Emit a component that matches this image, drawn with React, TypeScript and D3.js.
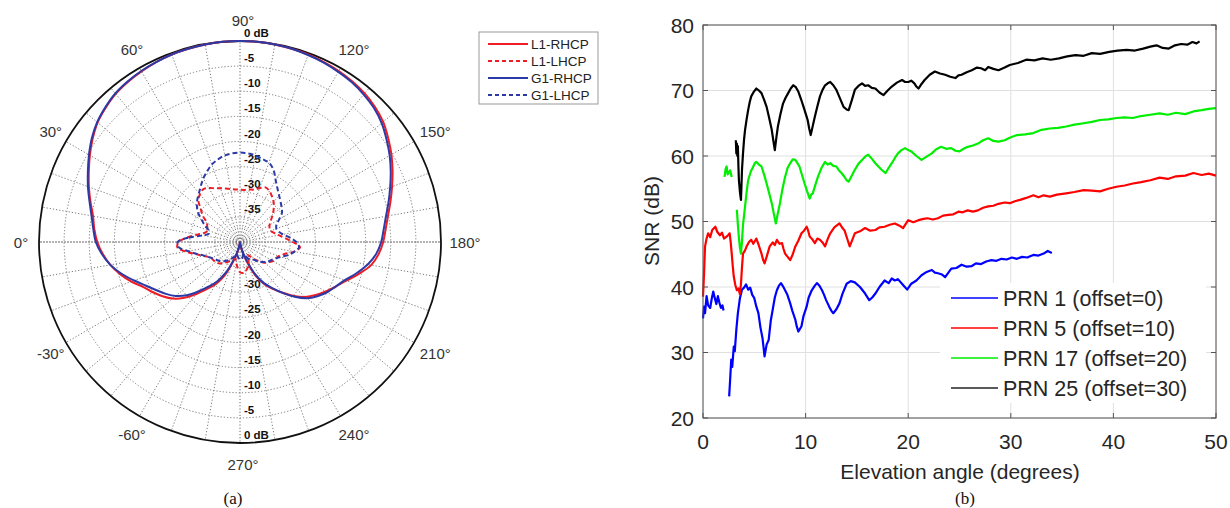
import React from 'react';
import * as d3 from 'd3';

// ---------------- Polar pattern data (angle in deg: 0 = left, 90 = top, 180 = right, 270 = bottom) ----------------
const polarAngles = [
  0, 5, 10, 15, 20, 25, 30, 35, 40, 45, 50, 55, 60, 65, 70, 75, 80, 85,
  90, 95, 100, 105, 110, 115, 120, 125, 130, 135, 140, 145, 150, 155, 160, 165, 170, 175,
  180, 185, 190, 195, 200, 205, 210, 215, 220, 225, 230, 235, 240, 245, 250, 255, 260, 265,
  270, 275, 280, 285, 290, 295, 300, 305, 310, 315, 320, 325, 330, 335, 340, 345, 350, 355,
];
const l1Rhcp = [
  -11.6, -10.9, -10.3, -9.2, -8.0, -6.8, -5.5, -4.2, -3.0, -2.2, -1.5, -1.1, -0.8, -0.5, -0.3, -0.2, -0.1, 0,
  0, 0, -0.1, -0.2, -0.3, -0.5, -0.7, -1.0, -1.4, -2.0, -2.8, -4.0, -5.2, -6.5, -7.8, -9.0, -10.1, -10.9,
  -11.5, -12.3, -13.5, -15.5, -17.5, -19.0, -20.3, -21.6, -23.0, -24.8, -26.8, -28.6, -30.3, -32.5, -35.5, -37.5, -39.0, -40,
  -40, -40, -39.0, -37.5, -35.5, -32.5, -30.3, -28.6, -26.5, -24.3, -22.5, -21.2, -20.0, -18.8, -17.0, -15.3, -13.8, -12.6,
];
const g1Rhcp = [
  -11.3, -10.7, -10.0, -9.0, -7.8, -6.6, -5.3, -4.0, -2.9, -2.1, -1.4, -1.0, -0.7, -0.5, -0.3, -0.2, -0.1, 0,
  0, 0, -0.1, -0.2, -0.4, -0.6, -0.9, -1.2, -1.7, -2.3, -3.2, -4.4, -5.6, -6.9, -8.2, -9.4, -10.5, -11.3,
  -11.9, -12.8, -14.2, -16.0, -17.8, -19.0, -20.0, -21.2, -22.6, -24.6, -26.8, -28.8, -30.6, -33.0, -36.0, -38.0, -39.3, -40,
  -40, -40, -39.3, -38.0, -36.0, -33.2, -31.0, -29.2, -27.2, -25.0, -23.3, -22.0, -20.8, -19.4, -17.6, -15.6, -13.8, -12.4,
];
const l1Lhcp = [
  -27.8, -29.5, -31.5, -32.8, -33.2, -32.8, -32.4, -31.0, -29.8, -28.3, -27.6, -27.2, -27.6, -28.2, -28.6, -29.0, -29.3, -29.5,
  -29.6, -29.6, -29.4, -29.2, -28.6, -28.0, -28.3, -28.9, -29.6, -30.5, -31.5, -32.5, -33.2, -33.5, -33.5, -33.0, -32.2, -31.0,
  -29.5, -28.0, -29.0, -30.8, -31.8, -32.2, -32.4, -33.0, -33.6, -34.5, -35.5, -36.5, -37.0, -36.0, -35.0, -34.5, -34.0, -33.8,
  -34.0, -34.8, -35.8, -36.5, -36.5, -36.0, -35.5, -35.0, -34.5, -34.0, -33.8, -33.6, -33.5, -33.0, -32.0, -30.8, -29.0, -27.5,
];
const g1Lhcp = [
  -27.6, -29.8, -32.5, -33.6, -33.4, -32.3, -31.2, -29.8, -28.8, -28.0, -27.3, -26.4, -25.4, -24.5, -23.6, -23.0, -22.5, -22.3,
  -22.2, -22.3, -22.5, -22.9, -23.2, -24.2, -25.8, -27.0, -27.9, -28.6, -29.2, -29.8, -31.0, -32.0, -32.3, -32.0, -31.3, -30.0,
  -28.8, -28.2, -29.0, -30.0, -31.3, -32.2, -32.8, -33.2, -33.8, -34.5, -35.2, -35.8, -36.0, -36.5, -37.2, -37.5, -37.0, -36.6,
  -36.5, -36.8, -37.2, -37.5, -37.0, -36.5, -36.0, -35.5, -35.0, -34.6, -34.3, -34.0, -33.6, -33.0, -32.2, -31.0, -29.5, -27.8,
];
const ringLevels = [-35, -30, -25, -20, -15, -10, -5];
const innerRingLevels = [-39, -38, -37, -36];
const topRingLabels = [0, -5, -10, -15, -20, -25, -30, -35];
const bottomRingLabels = [0, -5, -10, -15, -20, -25, -30];
const angleLabelValues = [0, 30, 60, 90, 120, 150, 180, 210, 240, 270, -60, -30];
const polarLegend = ['L1-RHCP', 'L1-LHCP', 'G1-RHCP', 'G1-LHCP'];

// ---------------- SNR data [elevation deg, SNR dB] ----------------
const prn1SegA = [[0,35.2],[0.1,37],[0.2,36],[0.35,38.6],[0.5,37.2],[0.7,36.8],[0.85,38.2],[1.0,39.3],[1.15,38.3],[1.3,37.4],[1.45,38.6],[1.6,37.6],[1.75,36.8],[1.9,37.2],[2.0,36.4]];
const prn1SegB = [[2.55,23.3],[2.65,26],[2.75,28.9],[2.85,27.8],[3.0,30.9],[3.1,30.2],[3.25,33.5],[3.4,36],[3.6,38.3],[3.8,39.6],[4.0,39.9],[4.2,40.4],[4.4,39.6],[4.6,39.9],[4.8,38.8],[5.0,38.3],[5.2,37],[5.4,36],[5.6,33.8],[5.8,32.2],[6.0,29.4],[6.2,31.2],[6.4,31.9],[6.6,34.8],[6.8,36.6],[7.0,38.4],[7.2,39.5],[7.4,40.2],[7.6,40.6],[7.8,40.1],[8.0,39.5],[8.2,38.9],[8.5,37.5],[8.7,36.4],[9.0,35],[9.15,33.9],[9.3,33.2],[9.45,33.6],[9.6,34],[9.8,35.6],[10.1,37],[10.3,38.4],[10.6,39.5],[10.9,40.2],[11.1,40.6],[11.35,40.2],[11.6,39.5],[11.8,38.8],[12.0,38],[12.3,37],[12.5,36.4],[12.7,36],[13.0,36.6],[13.3,37.5],[13.6,39],[14.0,40.5],[14.4,40.9],[14.8,40.7],[15.3,40],[15.8,39],[16.2,38],[16.5,38.4],[16.8,39],[17.2,40],[17.7,41],[18.1,40.6],[18.4,41.3],[18.7,41],[19.0,41.2],[19.5,40.3],[19.9,39.6],[20.3,40.5],[20.8,41],[21.3,41.8],[21.8,42.3],[22.3,42.6],[22.6,42.2],[22.9,42.1],[23.3,41.9],[23.6,41.5],[24.2,42.8],[24.7,42.9],[25.2,43.4],[25.7,43.1],[26.2,43.2],[26.6,43.6],[27.1,43.5],[27.6,43.9],[28.1,44.1],[28.6,44],[29.1,44.3],[29.6,44.2],[30.1,44.5],[30.6,44.3],[31.1,44.6],[31.6,44.5],[32.2,44.9],[32.7,44.8],[33.2,45.1],[33.6,45.5],[34.0,45.2]];
const prn5 = [[0,38.5],[0.1,42],[0.2,46.2],[0.35,47.4],[0.5,48.2],[0.7,47.6],[0.9,48.7],[1.2,49.2],[1.4,48.4],[1.65,47.9],[1.85,48.3],[2.05,47.4],[2.3,47.7],[2.45,47.9],[2.6,48.2],[2.7,46.8],[2.8,45.1],[2.9,43.2],[3.0,41.6],[3.15,40.3],[3.3,39.5],[3.45,39.8],[3.6,38.9],[3.7,40.5],[3.8,43],[3.9,45.1],[4.1,45.6],[4.25,46.2],[4.5,46.9],[4.7,47.2],[4.9,46.6],[5.2,47.4],[5.45,46.3],[5.7,45.1],[5.85,44.2],[6.0,43.6],[6.2,44.6],[6.5,46.2],[6.8,46.8],[7.0,46.4],[7.2,47.2],[7.45,46.6],[7.7,46.7],[7.85,45.8],[8.0,45.1],[8.25,44.6],[8.5,44.1],[8.75,45],[9.0,46.2],[9.3,47.1],[9.6,48.2],[9.85,48.6],[10.1,49.2],[10.25,48.6],[10.4,47.7],[10.65,47.3],[10.9,46.7],[11.15,47.4],[11.4,47.2],[11.65,46.8],[11.9,46.2],[12.15,47.3],[12.4,48.2],[12.8,49.1],[13.3,49.7],[13.6,49],[13.8,48.6],[14.05,47.4],[14.3,46.2],[14.55,47.2],[14.8,48.2],[15.3,48.5],[15.8,49],[16.3,48.6],[16.8,48.7],[17.2,49.1],[17.7,49.2],[18.2,49.5],[18.7,49.7],[19.1,49.4],[19.5,49],[20.0,50.2],[20.5,49.9],[21.0,50.2],[21.5,50.4],[21.9,50.5],[22.4,50.3],[22.9,50.5],[23.4,50.9],[23.9,51],[24.4,51.1],[24.9,51.5],[25.3,51.4],[25.8,51.7],[26.3,51.5],[26.8,51.7],[27.3,52.1],[27.8,52.3],[28.3,52.4],[28.8,52.7],[29.4,52.9],[29.9,52.8],[30.4,53.1],[30.9,53.3],[31.5,53.6],[32.2,54],[32.7,53.7],[33.2,54],[33.8,53.8],[34.5,54.1],[35.4,54.3],[36.2,54.5],[37.1,54.8],[37.9,54.7],[38.7,54.6],[39.5,55],[40.3,55.3],[41.1,55.5],[41.9,55.8],[42.7,56],[43.6,56.3],[44.5,56.7],[45.3,56.5],[46.1,56.9],[47,57],[47.8,57.4],[48.6,57.1],[49.3,57.3],[50,57]];
const prn17SegA = [[2.1,56.8],[2.2,58],[2.3,58.4],[2.4,57.2],[2.5,57.4],[2.65,57.8],[2.8,56.8]];
const prn17SegB = [[3.3,51.8],[3.4,49.5],[3.5,47.5],[3.6,46],[3.7,45.1],[3.8,47],[3.9,49.5],[4.1,52.3],[4.25,54.5],[4.4,56.3],[4.65,57.6],[4.9,58.4],[5.05,58.9],[5.2,59.1],[5.45,58.7],[5.7,58.4],[5.95,57.2],[6.2,55.8],[6.45,54.3],[6.7,52.8],[6.9,51.2],[7.1,49.7],[7.3,51.3],[7.5,52.8],[7.75,55],[8.0,56.8],[8.25,58.2],[8.5,58.9],[8.75,59.5],[9.0,59.4],[9.2,58.9],[9.4,58.4],[9.65,57.1],[9.9,55.8],[10.15,54.6],[10.4,53.5],[10.55,54.1],[10.7,54.3],[10.95,55.6],[11.2,56.8],[11.55,58.2],[11.9,59.1],[12.15,58.7],[12.4,58.9],[12.7,58.5],[13.0,58.4],[13.25,57.8],[13.5,57.4],[13.8,56.8],[14.0,56.3],[14.2,56.1],[14.5,57],[14.8,57.9],[15.15,58.8],[15.5,59.4],[15.8,59.9],[16.1,60.2],[16.45,59.6],[16.8,58.9],[17.1,58.4],[17.4,57.9],[17.8,57.4],[18.1,58.2],[18.4,58.9],[18.7,59.7],[19.0,60.4],[19.35,60.9],[19.7,61.2],[20.0,60.9],[20.3,60.7],[20.8,60],[21.3,59.4],[21.8,59.9],[22.3,60.4],[22.7,61],[23.2,61.4],[23.7,61.1],[24.2,61.2],[24.6,60.8],[25.0,60.7],[25.4,61.1],[25.8,61.4],[26.3,61.6],[26.8,61.9],[27.3,62.4],[27.8,62.7],[28.3,62.3],[28.8,62.2],[29.4,62.4],[29.9,62.8],[30.6,63.2],[31.4,63.3],[32.2,63.5],[33,64],[33.8,64.2],[34.6,64.3],[35.4,64.5],[36.2,64.8],[37.1,65],[37.9,65.2],[38.7,65.5],[39.5,65.6],[40.3,65.8],[41.1,65.9],[41.9,65.8],[42.7,66.1],[43.6,66.3],[44.5,66.5],[45.3,66.3],[46.1,66.6],[47,66.4],[47.8,66.8],[48.6,67],[49.3,67.2],[50,67.3]];
const prn25 = [[3.2,62.4],[3.25,60.4],[3.3,61.9],[3.35,60],[3.4,61.5],[3.45,58.5],[3.5,56.3],[3.6,54.5],[3.7,53.3],[3.75,55.5],[3.8,57.9],[3.9,60.4],[4.0,62.5],[4.1,64],[4.25,65.6],[4.4,67],[4.55,68.2],[4.7,69.1],[4.95,69.8],[5.2,70.3],[5.45,70],[5.7,69.6],[5.95,68.6],[6.2,67.5],[6.45,65.8],[6.7,64],[6.85,62.4],[7.0,60.9],[7.15,62.8],[7.3,64.5],[7.55,66.4],[7.8,68],[8.05,68.9],[8.3,69.6],[8.55,70.3],[8.8,70.8],[9.05,70.5],[9.3,69.8],[9.55,68.7],[9.8,67.5],[10.0,66.5],[10.2,65.5],[10.35,64.2],[10.5,63.2],[10.7,64.6],[10.9,66],[11.15,67.6],[11.4,69.1],[11.65,70.1],[11.9,70.8],[12.15,71.1],[12.4,71.3],[12.7,70.8],[13.0,70.1],[13.35,68.8],[13.7,67.5],[14.0,67.1],[14.2,67],[14.5,68.5],[14.8,70.1],[15.15,70.7],[15.5,71.1],[15.8,70.7],[16.1,70.8],[16.45,70.4],[16.8,70.3],[17.2,69.7],[17.6,69.3],[18.0,70],[18.4,70.6],[18.9,71.2],[19.4,71.6],[19.7,71.3],[20.0,71.3],[20.3,71.5],[20.6,71.1],[20.8,70.6],[21.0,70.3],[21.3,71],[21.6,71.6],[22.1,72.4],[22.6,72.9],[23.1,72.6],[23.6,72.4],[24.1,72.1],[24.6,71.9],[24.9,72.3],[25.2,72.4],[25.7,72.8],[26.2,73.1],[26.7,73.5],[27.1,73.4],[27.5,73.1],[27.8,73.6],[28.3,73.3],[28.8,73.1],[29.4,73.5],[29.9,73.9],[30.7,74.2],[31.5,74.7],[32.3,74.6],[33.1,74.9],[33.9,74.7],[34.7,74.9],[35.5,75.2],[36.3,75.4],[37.1,75.3],[37.9,75.7],[38.7,75.6],[39.6,75.9],[40.4,76.1],[41.3,76.2],[42.1,76.1],[42.9,76.4],[43.6,76.7],[44.2,76.9],[44.8,76.5],[45.4,76.4],[46,76.9],[46.6,77.1],[47.2,77],[47.7,77.4],[48.1,77.2],[48.4,77.5]];
const xTicks = [0, 10, 20, 30, 40, 50];
const yTicks = [20, 30, 40, 50, 60, 70, 80];
const snrLegend = ['PRN 1 (offset=0)', 'PRN 5 (offset=10)', 'PRN 17 (offset=20)', 'PRN 25 (offset=30)'];

const RED = '#ee1d25';
const BLUE = '#2b3aa6';

function PolarChart() {
  const cx = 240, cy = 242, R = 201;
  const r = d3.scaleLinear().domain([-40, 0]).range([0, R]).clamp(true);
  const toRad = (deg: number) => (deg - 90) * Math.PI / 180;
  const radial = d3.lineRadial<[number, number]>()
    .angle(d => toRad(d[0]))
    .radius(d => r(d[1]))
    .curve(d3.curveCatmullRomClosed.alpha(0.5));
  const mk = (vals: number[]) => radial(polarAngles.map((a, i) => [a, vals[i]] as [number, number])) || '';
  const spokes = d3.range(0, 360, 10);
  const series = [
    { vals: l1Rhcp, color: RED, dash: '' },
    { vals: g1Rhcp, color: BLUE, dash: '' },
    { vals: l1Lhcp, color: RED, dash: '5,3' },
    { vals: g1Lhcp, color: BLUE, dash: '5,3' },
  ];
  const legendStyles = [
    { color: RED, dash: '' }, { color: RED, dash: '4,3' }, { color: BLUE, dash: '' }, { color: BLUE, dash: '4,3' },
  ];
  const font = 'Liberation Sans, Arial, sans-serif';
  return (
    <g>
      <g transform={`translate(${cx},${cy})`}>
        {spokes.map(a => {
          const t = toRad(a);
          return <line key={'s' + a} x1={0} y1={0} x2={R * Math.sin(t)} y2={-R * Math.cos(t)}
            stroke={a % 90 === 0 ? '#666' : '#777'} strokeWidth={1} strokeDasharray={a % 180 === 0 ? '2,1' : '1.2,2'} />;
        })}
        {ringLevels.map(l => (
          <circle key={'r' + l} r={r(l)} fill="none" stroke="#777" strokeWidth={1} strokeDasharray="1.2,2" />
        ))}
        {innerRingLevels.map(l => (
          <circle key={'ir' + l} r={r(l)} fill="none" stroke="#aaa" strokeWidth={0.8} strokeDasharray="1,1.5" />
        ))}
        <circle r={R} fill="none" stroke="#111" strokeWidth={1.8} />
        {topRingLabels.map(l => (
          <text key={'tl' + l} x={4} y={-r(l) - 4} fontSize={11.5} fontWeight={600} fontFamily={font} fill="#111">
            {l === 0 ? '0 dB' : String(l)}
          </text>
        ))}
        {bottomRingLabels.map(l => (
          <text key={'bl' + l} x={4} y={r(l) - 4} fontSize={11.5} fontWeight={600} fontFamily={font} fill="#111">
            {l === 0 ? '0 dB' : String(l)}
          </text>
        ))}
        {series.map((s, i) => (
          <path key={'p' + i} d={mk(s.vals)} fill="none" stroke={s.color} strokeWidth={2} strokeDasharray={s.dash || undefined} />
        ))}
        {angleLabelValues.map(a => {
          const t = toRad(a);
          const lr = 222;
          return <text key={'a' + a} x={lr * Math.sin(t) + 3} y={-lr * Math.cos(t)} textAnchor="middle" dominantBaseline="central"
            fontSize={15} fontFamily={font} fill="#333">{a + '°'}</text>;
        })}
      </g>
      <rect x={479} y={32} width={119} height={72} fill="#fff" stroke="#999" strokeWidth={1} />
      {polarLegend.map((name, i) => {
        const y = 44 + i * 17;
        return (
          <g key={name}>
            <line x1={488} x2={528} y1={y} y2={y} stroke={legendStyles[i].color} strokeWidth={2} strokeDasharray={legendStyles[i].dash || undefined} />
            <text x={531} y={y + 5} fontSize={13.5} fontFamily={font} fill="#222">{name}</text>
          </g>
        );
      })}
      <text x={233} y={504} textAnchor="middle" fontSize={17} fontFamily="Liberation Serif, Times New Roman, serif" fill="#111">(a)</text>
    </g>
  );
}

function SnrChart() {
  const x = d3.scaleLinear().domain([0, 50]).range([703, 1216]);
  const y = d3.scaleLinear().domain([20, 80]).range([418, 25]);
  const line = d3.line<number[]>().x(d => x(d[0])).y(d => y(d[1]));
  const font = 'Liberation Sans, Arial, sans-serif';
  const series = [
    { segs: [prn1SegA, prn1SegB], color: '#0000ff' },
    { segs: [prn5], color: '#ff0000' },
    { segs: [prn17SegA, prn17SegB], color: '#00ee00' },
    { segs: [prn25], color: '#000000' },
  ];
  const legendColors = ['#0000ff', '#ff0000', '#00ee00', '#222222'];
  const [x0, x1] = x.range();
  const [y0, y1] = y.range();
  return (
    <g>
      <rect x={x0} y={y1} width={x1 - x0} height={y0 - y1} fill="#fff" />
      {xTicks.map(t => (
        <line key={'gx' + t} x1={x(t)} x2={x(t)} y1={y0} y2={y1} stroke="#e0e0e0" strokeWidth={1} />
      ))}
      {yTicks.map(t => (
        <line key={'gy' + t} x1={x0} x2={x1} y1={y(t)} y2={y(t)} stroke="#e0e0e0" strokeWidth={1} />
      ))}
      {series.map((s, i) => s.segs.map((seg, j) => (
        <path key={`l${i}-${j}`} d={line(seg) || ''} fill="none" stroke={s.color} strokeWidth={2.2} strokeLinejoin="round" />
      )))}
      <rect x={940} y={283} width={266} height={120} fill="#fff" />
      {snrLegend.map((name, i) => {
        const yy = 298 + i * 30;
        return (
          <g key={name}>
            <line x1={951} x2={998} y1={yy} y2={yy} stroke={legendColors[i]} strokeWidth={1.5} />
            <text x={1003} y={yy + 7.5} fontSize={21.5} fontFamily={font} fill="#262626">{name}</text>
          </g>
        );
      })}
      <rect x={x0} y={y1} width={x1 - x0} height={y0 - y1} fill="none" stroke="#555" strokeWidth={1} />
      {xTicks.map(t => (
        <g key={'tx' + t}>
          <line x1={x(t)} x2={x(t)} y1={y0} y2={y0 - 5} stroke="#555" />
          <line x1={x(t)} x2={x(t)} y1={y1} y2={y1 + 5} stroke="#555" />
          <text x={x(t)} y={y0 + 31} textAnchor="middle" fontSize={21} fontFamily={font} fill="#262626">{t}</text>
        </g>
      ))}
      {yTicks.map(t => (
        <g key={'ty' + t}>
          <line x1={x0} x2={x0 + 5} y1={y(t)} y2={y(t)} stroke="#555" />
          <line x1={x1} x2={x1 - 5} y1={y(t)} y2={y(t)} stroke="#555" />
          <text x={694} y={y(t) + 7.5} textAnchor="end" fontSize={21} fontFamily={font} fill="#262626">{t}</text>
        </g>
      ))}
      <text x={960} y={479} textAnchor="middle" fontSize={21} fontFamily={font} fill="#262626">Elevation angle (degrees)</text>
      <text transform="translate(659,221) rotate(-90)" textAnchor="middle" fontSize={21} fontFamily={font} fill="#262626">SNR (dB)</text>
      <text x={965} y={504} textAnchor="middle" fontSize={17} fontFamily="Liberation Serif, Times New Roman, serif" fill="#111">(b)</text>
    </g>
  );
}

export default function App() {
  return (
    <svg width={1230} height={508} viewBox="0 0 1230 508" style={{ position: 'absolute', left: 0, top: 0, background: '#fff' }}>
      <rect width={1230} height={508} fill="#fff" />
      <PolarChart />
      <SnrChart />
    </svg>
  );
}
